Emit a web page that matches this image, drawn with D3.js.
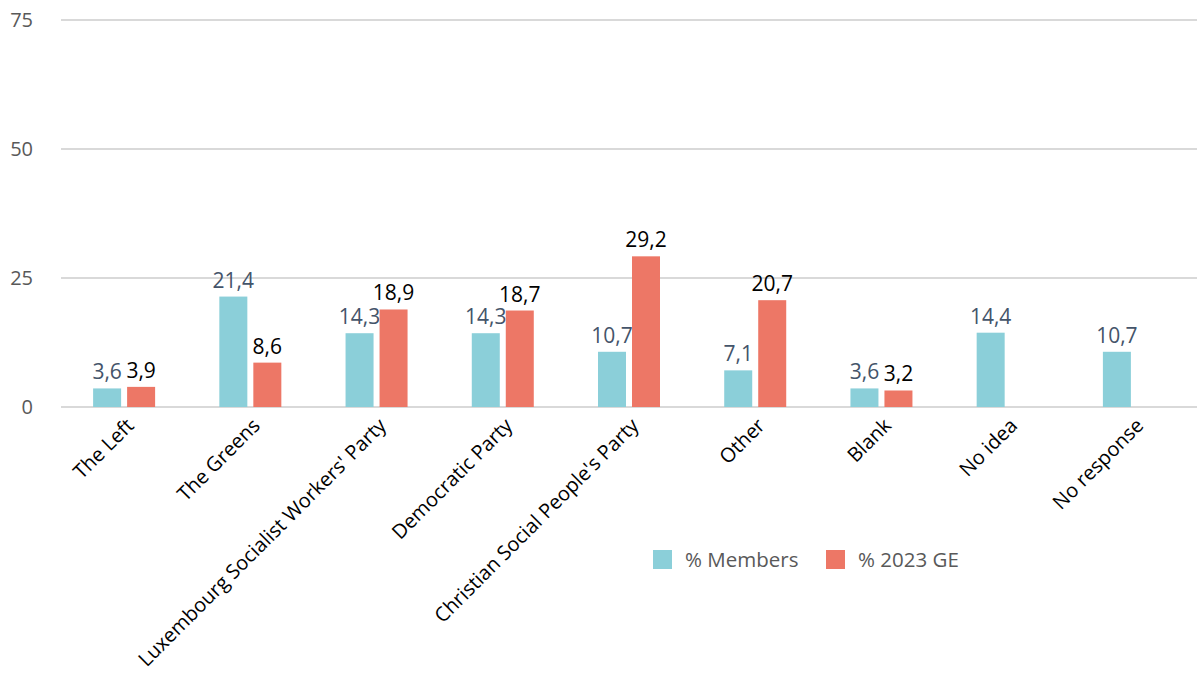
<!DOCTYPE html>
<html>
<head>
    <meta charset="utf-8">
    <style>
        body { margin: 0; background: #fff; }
        svg { font-family: "Open Sans", Lato, sans-serif; }
    </style>
</head>
<body>
    <svg width="1200" height="677"></svg>
    <script src="https://cdn.jsdelivr.net/npm/d3@7"></script>
    <script>

    var categories = ["The Left", "The Greens", "Luxembourg Socialist Workers' Party", "Democratic Party",
        "Christian Social People's Party", "Other", "Blank", "No idea", "No response"];
    var members = [3.6, 21.4, 14.3, 14.3, 10.7, 7.1, 3.6, 14.4, 10.7];
    var ge2023 = [3.9, 8.6, 18.9, 18.7, 29.2, 20.7, 3.2, null, null];
    var yTicks = [0, 25, 50, 75];
    var seriesNames = ["% Members", "% 2023 GE"];
    var colors = ["#8bcfd9", "#ed7766"];
    var labelColors = ["#44546a", "#000"];

    var svg = d3.select("svg");

    var x = d3.scaleBand().domain(categories).range([61, 1197]),
        y = d3.scaleLinear().domain([0, 75]).range([407, 20]);

    var barW = 28, gap = 3;

    // gridlines + y labels
    svg.append("g").selectAll("line")
        .data(yTicks)
        .join("line")
        .attr("x1", 61).attr("x2", 1197)
        .attr("y1", function(d) { return y(d); })
        .attr("y2", function(d) { return y(d); })
        .attr("stroke", "#d9d9d9")
        .attr("stroke-width", 2);

    svg.append("g").selectAll("text")
        .data(yTicks)
        .join("text")
        .attr("x", 33)
        .attr("y", function(d) { return y(d); })
        .attr("dy", "0.35em")
        .attr("text-anchor", "end")
        .attr("fill", "#595959")
        .style("font-size", "20px")
        .text(function(d) { return d; });

    var series = [members, ge2023];

    series.forEach(function(vals, s) {
        var data = categories.map(function(c, i) { return {c: c, v: vals[i]}; })
            .filter(function(d) { return d.v != null; });
        var off = s === 0 ? -gap - barW : gap;

        svg.append("g").selectAll("rect")
            .data(data)
            .join("rect")
            .attr("x", function(d) { return x(d.c) + x.bandwidth() / 2 + off; })
            .attr("y", function(d) { return y(d.v); })
            .attr("width", barW)
            .attr("height", function(d) { return y(0) - y(d.v); })
            .attr("fill", colors[s]);

        svg.append("g").selectAll("text")
            .data(data)
            .join("text")
            .attr("x", function(d) { return x(d.c) + x.bandwidth() / 2 + off + barW / 2; })
            .attr("y", function(d) { return y(d.v) - 9; })
            .attr("text-anchor", "middle")
            .attr("fill", labelColors[s])
            .style("font-size", "21px")
            .text(function(d) { return d3.format(".1f")(d.v).replace(".", ","); });
    });

    // category labels
    svg.append("g").selectAll("text")
        .data(categories)
        .join("text")
        .attr("transform", function(d) {
            return "translate(" + (x(d) + x.bandwidth() / 2 + 1) + ",417) rotate(-45)";
        })
        .attr("text-anchor", "end")
        .attr("dy", "0.7em")
        .attr("fill", "#000")
        .style("font-size", "20px")
        .text(function(d) { return d; });

    // legend
    var legend = svg.append("g");
    var lx = [653, 826];
    seriesNames.forEach(function(n, i) {
        legend.append("rect")
            .attr("x", lx[i]).attr("y", 550)
            .attr("width", 19).attr("height", 19)
            .attr("fill", colors[i]);
        legend.append("text")
            .attr("x", lx[i] + 32).attr("y", 567)
            .attr("fill", "#595959")
            .style("font-size", "20.5px")
            .text(n);
    });

    </script>
</body>
</html>
